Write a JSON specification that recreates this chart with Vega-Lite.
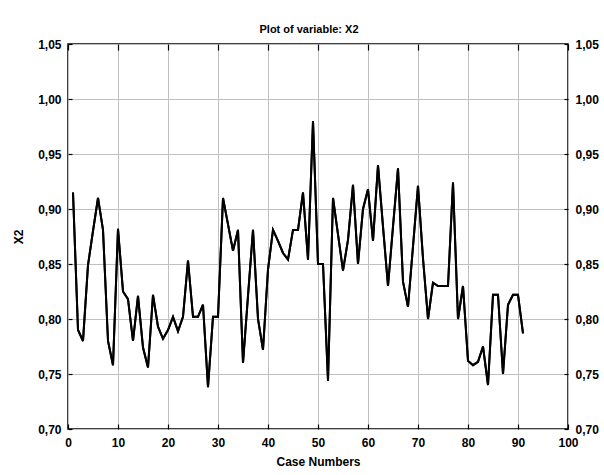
{
  "$schema": "https://vega.github.io/schema/vega-lite/v6.json",
  "autosize": "none",
  "width": 500,
  "height": 385,
  "padding": {"left": 68, "top": 44, "right": 36, "bottom": 46},
  "background": "white",
  "title": {"text": "Plot of variable: X2", "fontSize": 11, "fontWeight": "bold", "font": "Liberation Sans", "color": "black", "offset": 3, "dx": -9},
  "config": {
    "view": {"stroke": "black", "strokeWidth": 1.5},
    "axis": {
      "labelFont": "Liberation Sans", "labelFontSize": 12, "labelFontWeight": "bold", "labelColor": "black",
      "titleFont": "Liberation Sans", "titleFontSize": 12, "titleFontWeight": "bold", "titleColor": "black",
      "domain": false, "tickColor": "black", "tickWidth": 1.2, "gridColor": "#c0c0c0", "gridWidth": 1, "gridOpacity": 1
    }
  },
  "data": {"values": [
    {"case": 1, "X2": 0.915}, {"case": 2, "X2": 0.790}, {"case": 3, "X2": 0.780}, {"case": 4, "X2": 0.849},
    {"case": 5, "X2": 0.880}, {"case": 6, "X2": 0.910}, {"case": 7, "X2": 0.881}, {"case": 8, "X2": 0.780},
    {"case": 9, "X2": 0.758}, {"case": 10, "X2": 0.882}, {"case": 11, "X2": 0.825}, {"case": 12, "X2": 0.818},
    {"case": 13, "X2": 0.780}, {"case": 14, "X2": 0.821}, {"case": 15, "X2": 0.774}, {"case": 16, "X2": 0.756},
    {"case": 17, "X2": 0.822}, {"case": 18, "X2": 0.793}, {"case": 19, "X2": 0.782}, {"case": 20, "X2": 0.790},
    {"case": 21, "X2": 0.802}, {"case": 22, "X2": 0.789}, {"case": 23, "X2": 0.802}, {"case": 24, "X2": 0.853},
    {"case": 25, "X2": 0.802}, {"case": 26, "X2": 0.802}, {"case": 27, "X2": 0.813}, {"case": 28, "X2": 0.738},
    {"case": 29, "X2": 0.802}, {"case": 30, "X2": 0.802}, {"case": 31, "X2": 0.910}, {"case": 32, "X2": 0.886},
    {"case": 33, "X2": 0.862}, {"case": 34, "X2": 0.881}, {"case": 35, "X2": 0.760}, {"case": 36, "X2": 0.821},
    {"case": 37, "X2": 0.881}, {"case": 38, "X2": 0.800}, {"case": 39, "X2": 0.772}, {"case": 40, "X2": 0.845},
    {"case": 41, "X2": 0.881}, {"case": 42, "X2": 0.871}, {"case": 43, "X2": 0.860}, {"case": 44, "X2": 0.854},
    {"case": 45, "X2": 0.881}, {"case": 46, "X2": 0.881}, {"case": 47, "X2": 0.915}, {"case": 48, "X2": 0.854},
    {"case": 49, "X2": 0.980}, {"case": 50, "X2": 0.850}, {"case": 51, "X2": 0.850}, {"case": 52, "X2": 0.744},
    {"case": 53, "X2": 0.910}, {"case": 54, "X2": 0.877}, {"case": 55, "X2": 0.844}, {"case": 56, "X2": 0.872},
    {"case": 57, "X2": 0.922}, {"case": 58, "X2": 0.850}, {"case": 59, "X2": 0.900}, {"case": 60, "X2": 0.918},
    {"case": 61, "X2": 0.871}, {"case": 62, "X2": 0.940}, {"case": 63, "X2": 0.884}, {"case": 64, "X2": 0.830},
    {"case": 65, "X2": 0.884}, {"case": 66, "X2": 0.937}, {"case": 67, "X2": 0.834}, {"case": 68, "X2": 0.811},
    {"case": 69, "X2": 0.866}, {"case": 70, "X2": 0.921}, {"case": 71, "X2": 0.855}, {"case": 72, "X2": 0.800},
    {"case": 73, "X2": 0.833}, {"case": 74, "X2": 0.830}, {"case": 75, "X2": 0.830}, {"case": 76, "X2": 0.830},
    {"case": 77, "X2": 0.924}, {"case": 78, "X2": 0.800}, {"case": 79, "X2": 0.830}, {"case": 80, "X2": 0.762},
    {"case": 81, "X2": 0.758}, {"case": 82, "X2": 0.761}, {"case": 83, "X2": 0.775}, {"case": 84, "X2": 0.740},
    {"case": 85, "X2": 0.822}, {"case": 86, "X2": 0.822}, {"case": 87, "X2": 0.750}, {"case": 88, "X2": 0.813},
    {"case": 89, "X2": 0.822}, {"case": 90, "X2": 0.822}, {"case": 91, "X2": 0.787}
  ]},
  "layer": [
    {
      "mark": {"type": "line", "color": "black", "strokeWidth": 2},
      "encoding": {
        "x": {"field": "case", "type": "quantitative", "scale": {"domain": [0, 100], "nice": false},
              "axis": {"orient": "bottom", "title": "Case Numbers", "values": [0,10,20,30,40,50,60,70,80,90,100], "grid": true, "tickSize": -5, "labelPadding": 13, "titlePadding": 8, "labelFlush": false}},
        "y": {"field": "X2", "type": "quantitative", "scale": {"domain": [0.70, 1.05], "nice": false, "zero": false},
              "axis": {"orient": "left", "title": "X2", "values": [0.70,0.75,0.80,0.85,0.90,0.95,1.00,1.05], "grid": true, "tickSize": -4, "labelPadding": 11, "titlePadding": 12, "labelFlush": false,
                       "labelExpr": "replace(format(datum.value, '.2f'), '.', ',')"}}
      }
    },
    {
      "mark": {"type": "line", "color": "black", "strokeWidth": 2},
      "encoding": {
        "x": {"field": "case", "type": "quantitative", "scale": {"domain": [0, 100], "nice": false},
              "axis": {"orient": "top", "title": null, "values": [0,10,20,30,40,50,60,70,80,90,100], "grid": false, "tickSize": -6, "labels": false}},
        "y": {"field": "X2", "type": "quantitative", "scale": {"domain": [0.70, 1.05], "nice": false, "zero": false},
              "axis": {"orient": "right", "title": null, "values": [0.70,0.75,0.80,0.85,0.90,0.95,1.00,1.05], "grid": false, "tickSize": -4, "labelPadding": 11, "labelFlush": false,
                       "labelExpr": "replace(format(datum.value, '.2f'), '.', ',')"}}
      }
    }
  ],
  "resolve": {"axis": {"x": "independent", "y": "independent"}}
}
